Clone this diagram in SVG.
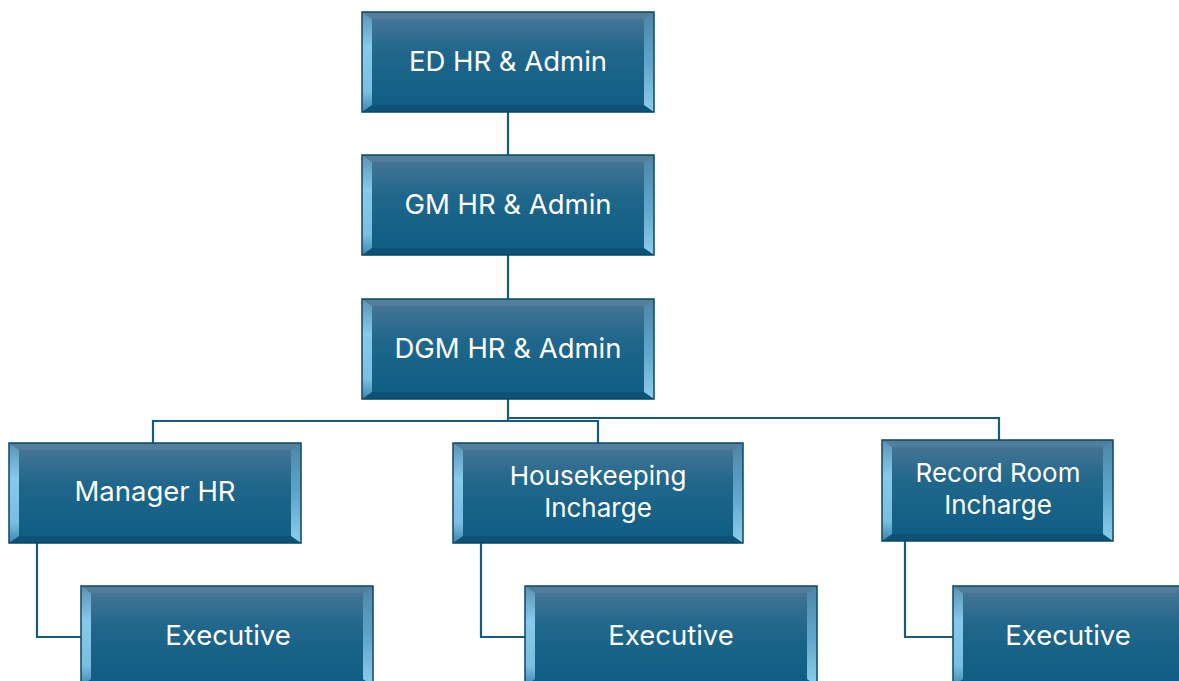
<svg xmlns="http://www.w3.org/2000/svg" width="1179" height="681" viewBox="0 0 1179 681">
<defs>
<linearGradient id="fill" x1="0" y1="0" x2="0" y2="1">
<stop offset="0" stop-color="#4c7797"/>
<stop offset="0.4" stop-color="#20678b"/>
<stop offset="1" stop-color="#0f5c83"/>
</linearGradient>
<linearGradient id="side" x1="0" y1="0" x2="0" y2="1">
<stop offset="0" stop-color="#5c93b4"/>
<stop offset="0.35" stop-color="#86c9ea"/>
<stop offset="0.8" stop-color="#79bfe2"/>
<stop offset="1" stop-color="#3e86ad"/>
</linearGradient>
<linearGradient id="sideR" x1="0" y1="0" x2="0" y2="1">
<stop offset="0" stop-color="#4d86a7"/>
<stop offset="0.5" stop-color="#5fa5c9"/>
<stop offset="1" stop-color="#8ccdec"/>
</linearGradient>
</defs>
<style>
.bt{fill:#5a84a2;opacity:0.6}
.bb{fill:#0b4f73;opacity:0.8}
.bl{fill:url(#side)}
.br{fill:url(#sideR)}
.main{fill:url(#fill)}
.edge{fill:none;stroke:#0c4766;stroke-width:1.5}
.lbl{font-family:Inter,"Open Sans","Liberation Sans",sans-serif;font-size:27.5px;fill:#ffffff;text-anchor:middle}
.two{font-size:26px}
.con{fill:none;stroke:#175a7c;stroke-width:2.2}
</style>
<g id="connectors">
<path class="con" d="M508 112V155"/>
<path class="con" d="M508 255V299"/>
<path class="con" d="M508 399V421H153V443"/>
<path class="con" d="M508 421H598V443"/>
<path class="con" d="M508 418H999V440"/>
<path class="con" d="M37 543V637H81"/>
<path class="con" d="M481 543V637H525"/>
<path class="con" d="M905 541V637H953"/>
</g>
<g id="ed">
<rect class="main" x="362" y="12" width="292" height="100"/>
<polygon class="bt" points="362,12 654,12 644,19 372,19"/>
<polygon class="bb" points="362,112 654,112 644,105 372,105"/>
<polygon class="bl" points="362,12 372,19 372,105 362,112"/>
<polygon class="br" points="654,12 644,19 644,105 654,112"/>
<rect class="edge" x="362" y="12" width="292" height="100"/>
<text class="lbl" x="508" y="71">ED HR &amp; Admin</text>
</g>
<g id="gm">
<rect class="main" x="362" y="155" width="292" height="100"/>
<polygon class="bt" points="362,155 654,155 644,162 372,162"/>
<polygon class="bb" points="362,255 654,255 644,248 372,248"/>
<polygon class="bl" points="362,155 372,162 372,248 362,255"/>
<polygon class="br" points="654,155 644,162 644,248 654,255"/>
<rect class="edge" x="362" y="155" width="292" height="100"/>
<text class="lbl" x="508" y="214">GM HR &amp; Admin</text>
</g>
<g id="dgm">
<rect class="main" x="362" y="299" width="292" height="100"/>
<polygon class="bt" points="362,299 654,299 644,306 372,306"/>
<polygon class="bb" points="362,399 654,399 644,392 372,392"/>
<polygon class="bl" points="362,299 372,306 372,392 362,399"/>
<polygon class="br" points="654,299 644,306 644,392 654,399"/>
<rect class="edge" x="362" y="299" width="292" height="100"/>
<text class="lbl" x="508" y="358">DGM HR &amp; Admin</text>
</g>
<g id="manager">
<rect class="main" x="9" y="443" width="292" height="100"/>
<polygon class="bt" points="9,443 301,443 291,450 19,450"/>
<polygon class="bb" points="9,543 301,543 291,536 19,536"/>
<polygon class="bl" points="9,443 19,450 19,536 9,543"/>
<polygon class="br" points="301,443 291,450 291,536 301,543"/>
<rect class="edge" x="9" y="443" width="292" height="100"/>
<text class="lbl" x="155" y="501">Manager HR</text>
</g>
<g id="housekeeping">
<rect class="main" x="453" y="443" width="290" height="100"/>
<polygon class="bt" points="453,443 743,443 733,450 463,450"/>
<polygon class="bb" points="453,543 743,543 733,536 463,536"/>
<polygon class="bl" points="453,443 463,450 463,536 453,543"/>
<polygon class="br" points="743,443 733,450 733,536 743,543"/>
<rect class="edge" x="453" y="443" width="290" height="100"/>
<text class="lbl two" x="598" y="485">Housekeeping</text>
<text class="lbl two" x="598" y="517">Incharge</text>
</g>
<g id="recordroom">
<rect class="main" x="882" y="440" width="231" height="101"/>
<polygon class="bt" points="882,440 1113,440 1103,447 892,447"/>
<polygon class="bb" points="882,541 1113,541 1103,534 892,534"/>
<polygon class="bl" points="882,440 892,447 892,534 882,541"/>
<polygon class="br" points="1113,440 1103,447 1103,534 1113,541"/>
<rect class="edge" x="882" y="440" width="231" height="101"/>
<text class="lbl two" x="998" y="482">Record Room</text>
<text class="lbl two" x="998" y="514">Incharge</text>
</g>
<g id="exec1">
<rect class="main" x="81" y="586" width="292" height="100"/>
<polygon class="bt" points="81,586 373,586 363,593 91,593"/>
<polygon class="bl" points="81,586 91,593 91,679 81,686"/>
<polygon class="br" points="373,586 363,593 363,679 373,686"/>
<rect class="edge" x="81" y="586" width="292" height="100"/>
<text class="lbl" x="228" y="645">Executive</text>
</g>
<g id="exec2">
<rect class="main" x="525" y="586" width="292" height="100"/>
<polygon class="bt" points="525,586 817,586 807,593 535,593"/>
<polygon class="bl" points="525,586 535,593 535,679 525,686"/>
<polygon class="br" points="817,586 807,593 807,679 817,686"/>
<rect class="edge" x="525" y="586" width="292" height="100"/>
<text class="lbl" x="671" y="645">Executive</text>
</g>
<g id="exec3">
<rect class="main" x="953" y="586" width="232" height="100"/>
<polygon class="bt" points="953,586 1185,586 1175,593 963,593"/>
<polygon class="bl" points="953,586 963,593 963,679 953,686"/>
<rect class="edge" x="953" y="586" width="232" height="100"/>
<text class="lbl" x="1068" y="645">Executive</text>
</g>
</svg>
